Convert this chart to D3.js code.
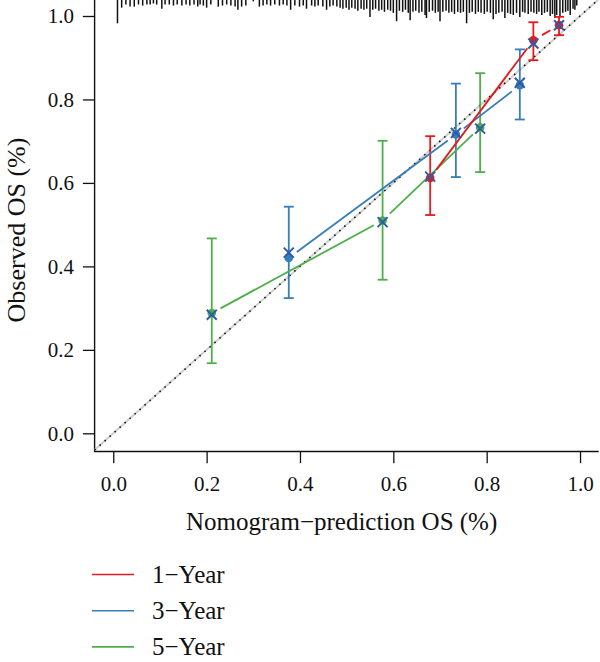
<!DOCTYPE html>
<html>
<head>
<meta charset="utf-8">
<script src="https://cdn.jsdelivr.net/npm/d3@7"></script>
<style>
  body { margin: 0; background: #fff; }
  svg text { font-family: "Liberation Serif", "DejaVu Serif", serif; fill: #111; }
</style>
</head>
<body>
<div id="calibration-wrapper"></div>
<script>
// legend labels and colours
const seriesNames = ["1\u2212Year", "3\u2212Year", "5\u2212Year"]
const seriesColors = ["#E41A1C", "#377EB8", "#4DAF4A"]
const correctedColor = "#2E5CAA"

// mean predicted / observed KM / 95% CI / bias-corrected, per time point
const predicted1 = [0.679, 0.900, 0.955]
const observed1 = [0.612, 0.942, 0.978]
const lower1 = [0.523, 0.894, 0.954]
const upper1 = [0.712, 0.985, 0.998]
const corrected1 = [0.615, 0.934, 0.978]

const predicted3 = [0.376, 0.734, 0.871]
const observed3 = [0.420, 0.716, 0.834]
const lower3 = [0.324, 0.614, 0.752]
const upper3 = [0.543, 0.838, 0.920]
const corrected3 = [0.433, 0.720, 0.840]

const predicted5 = [0.211, 0.577, 0.786]
const observed5 = [0.288, 0.510, 0.733]
const lower5 = [0.168, 0.368, 0.626]
const upper5 = [0.467, 0.701, 0.863]
const corrected5 = [0.284, 0.506, 0.730]

const tickValues = [0, 0.2, 0.4, 0.6, 0.8, 1.0]

// distribution of predicted values shown along the top
const riskValues = [
  0.009, 0.018, 0.027, 0.036, 0.045, 0.054, 0.063, 0.072, 0.079, 0.086,
  0.093, 0.104, 0.111, 0.120, 0.129, 0.137, 0.147, 0.156, 0.164, 0.173,
  0.181, 0.186, 0.193, 0.200, 0.209, 0.225, 0.234, 0.243, 0.252, 0.261,
  0.267, 0.275, 0.284, 0.300, 0.313, 0.321, 0.329, 0.337, 0.346, 0.356,
  0.364, 0.372, 0.380, 0.389, 0.399, 0.407, 0.414, 0.425, 0.432, 0.439,
  0.449, 0.457, 0.464, 0.471, 0.479,
  0.486, 0.492, 0.499, 0.505, 0.511, 0.518, 0.524, 0.531, 0.537, 0.543,
  0.550, 0.556, 0.562, 0.569, 0.575, 0.581, 0.588, 0.594, 0.600, 0.607,
  0.613, 0.620, 0.626, 0.632, 0.636, 0.642, 0.648, 0.655, 0.661, 0.668,
  0.671, 0.677, 0.684, 0.690, 0.696, 0.700, 0.706, 0.713, 0.719, 0.725,
  0.731, 0.738, 0.744, 0.750, 0.757, 0.763, 0.769, 0.776, 0.782, 0.788,
  0.795, 0.801, 0.808, 0.814, 0.820, 0.826, 0.833, 0.839, 0.845, 0.851,
  0.857, 0.864, 0.871, 0.877, 0.882, 0.889, 0.895, 0.901, 0.907, 0.912,
  0.918, 0.924, 0.930, 0.936, 0.941, 0.946, 0.950, 0.957, 0.963, 0.969,
  0.974, 0.979, 0.985, 0.989, 0.993
]
const riskCounts = [
  23, 8, 5, 7, 7, 5, 6, 5, 5, 4,
  5, 9, 5, 5, 6, 5, 6, 5, 6, 5,
  7, 5, 6, 8, 5, 7, 6, 5, 6, 7,
  10, 7, 6, 2, 7, 6, 5, 6, 5, 6,
  5, 6, 10, 6, 7, 6, 9, 6, 7, 6,
  7, 10, 7, 6, 7,
  8, 9, 8, 10, 8, 9, 11, 9, 10, 9,
  17, 10, 9, 11, 10, 12, 10, 11, 13, 21,
  11, 12, 10, 13, 20, 12, 11, 13, 12, 15,
  18, 12, 11, 13, 12, 21, 12, 11, 13, 12,
  14, 12, 13, 12, 23, 13, 12, 14, 12, 13,
  14, 12, 13, 19, 14, 13, 12, 18, 13, 14,
  15, 13, 17, 12, 13, 14, 12, 13, 14, 12,
  15, 13, 12, 16, 14, 18, 15, 17, 13, 12,
  11, 15, 9, 10, 6
]

function drawCalibration() {

  let dimensions = {
    width: 600,
    height: 662,
    plot: {
      left: 94.6,
      right: 598.7,
      top: -0.7,
      bottom: 450,
    },
  }

  const xScale = d3.scaleLinear()
      .domain([-0.04, 1.04])
      .range([dimensions.plot.left, dimensions.plot.right])

  const yScale = d3.scaleLinear()
      .domain([-0.04, 1.04])
      .range([dimensions.plot.bottom, dimensions.plot.top])

  const spikeScale = d3.scaleLinear()
      .domain([0, d3.max(riskCounts)])
      .range([0, 24])

  const wrapper = d3.select("#calibration-wrapper")
    .append("svg")
      .attr("width", dimensions.width)
      .attr("height", dimensions.height)

  // Draw axes (R style: L box, outward ticks)

  const yAxisGenerator = d3.axisLeft()
    .scale(yScale)
    .tickValues(tickValues)
    .tickFormat(d3.format(".1f"))
    .tickSize(11.7)
    .tickPadding(9)

  const yAxis = wrapper.append("g")
      .attr("transform", `translate(${dimensions.plot.left}, 0)`)
    .call(yAxisGenerator)
      .attr("font-family", null)
  yAxis.select(".domain").remove()
  yAxis.selectAll("line").attr("stroke", "#111").attr("stroke-width", 1.3)
  yAxis.selectAll("text")
      .attr("font-size", 21)
      .attr("fill", "#111")

  const xAxisGenerator = d3.axisBottom()
    .scale(xScale)
    .tickValues(tickValues)
    .tickFormat(d3.format(".1f"))
    .tickSize(11.7)
    .tickPadding(13)

  const xAxis = wrapper.append("g")
      .attr("transform", `translate(0, ${dimensions.plot.bottom + 1.5})`)
    .call(xAxisGenerator)
      .attr("font-family", null)
  xAxis.select(".domain").remove()
  xAxis.selectAll("line").attr("stroke", "#111").attr("stroke-width", 1.3)
  xAxis.selectAll("text")
      .attr("font-size", 21)
      .attr("fill", "#111")

  wrapper.append("path")
      .attr("d", `M${dimensions.plot.left},0 V${dimensions.plot.bottom + 1.5} H${dimensions.plot.right}`)
      .attr("fill", "none")
      .attr("stroke", "#111")
      .attr("stroke-width", 1.4)

  wrapper.append("text")
      .attr("x", (dimensions.plot.left + dimensions.plot.right) / 2 - 5)
      .attr("y", 530)
      .attr("text-anchor", "middle")
      .attr("font-size", 25)
      .text("Nomogram\u2212prediction OS (%)")

  wrapper.append("text")
      .attr("transform", "translate(25, 230) rotate(-90)")
      .attr("text-anchor", "middle")
      .attr("font-size", 26)
      .text("Observed OS (%)")

  // distribution spikes at the top
  wrapper.append("g")
    .selectAll("line")
    .data(riskValues)
    .join("line")
      .attr("x1", d => xScale(d))
      .attr("x2", d => xScale(d))
      .attr("y1", dimensions.plot.top)
      .attr("y2", (d, i) => dimensions.plot.top + spikeScale(riskCounts[i]))
      .attr("stroke", "#111")
      .attr("stroke-width", 1.5)

  // ideal line
  wrapper.append("line")
      .attr("x1", xScale(-0.04))
      .attr("y1", yScale(-0.04))
      .attr("x2", xScale(1.04))
      .attr("y2", yScale(1.04))
      .attr("stroke", "#cfcfcf")
      .attr("stroke-width", 2)
  wrapper.append("line")
      .attr("x1", xScale(-0.04))
      .attr("y1", yScale(-0.04))
      .attr("x2", xScale(1.04))
      .attr("y2", yScale(1.04))
      .attr("stroke", "#111")
      .attr("stroke-width", 1.6)
      .attr("stroke-dasharray", "1.5 5.2")

  const seriesData = [
    { pred: predicted1, obs: observed1, lo: lower1, hi: upper1, cor: corrected1 },
    { pred: predicted3, obs: observed3, lo: lower3, hi: upper3, cor: corrected3 },
    { pred: predicted5, obs: observed5, lo: lower5, hi: upper5, cor: corrected5 },
  ]

  const gap = 10
  const capHalf = 5

  // draw 5-year first, 1-year last (as in the figure)
  const drawOrder = [2, 1, 0]

  drawOrder.forEach(s => {
    const series = seriesData[s]
    const color = seriesColors[s]
    const g = wrapper.append("g")

    // error bars
    series.pred.forEach((p, i) => {
      const x = xScale(p)
      g.append("line")
          .attr("x1", x).attr("x2", x)
          .attr("y1", yScale(series.lo[i])).attr("y2", yScale(series.hi[i]))
          .attr("stroke", color).attr("stroke-width", 1.8)
      ;[series.lo[i], series.hi[i]].forEach(v => {
        g.append("line")
            .attr("x1", x - capHalf).attr("x2", x + capHalf)
            .attr("y1", yScale(v)).attr("y2", yScale(v))
            .attr("stroke", color).attr("stroke-width", 1.8)
      })
    })
  })

  drawOrder.forEach(s => {
    const series = seriesData[s]
    const color = seriesColors[s]
    const g = wrapper.append("g")

    // connecting line with gaps around the points (type = "b")
    for (let i = 0; i < series.pred.length - 1; i++) {
      const x0 = xScale(series.pred[i]), y0 = yScale(series.obs[i])
      const x1 = xScale(series.pred[i + 1]), y1 = yScale(series.obs[i + 1])
      const len = Math.hypot(x1 - x0, y1 - y0)
      if (len <= 2 * gap) continue
      const ux = (x1 - x0) / len, uy = (y1 - y0) / len
      g.append("line")
          .attr("x1", x0 + ux * gap).attr("y1", y0 + uy * gap)
          .attr("x2", x1 - ux * gap).attr("y2", y1 - uy * gap)
          .attr("stroke", color).attr("stroke-width", 1.8)
    }

    g.selectAll("circle")
      .data(series.pred)
      .join("circle")
        .attr("cx", d => xScale(d))
        .attr("cy", (d, i) => yScale(series.obs[i]))
        .attr("r", 4.3)
        .attr("fill", color)
  })

  // bias-corrected estimates
  const crossSize = 5
  seriesData.forEach(series => {
    series.pred.forEach((p, i) => {
      const x = xScale(p), y = yScale(series.cor[i])
      wrapper.append("path")
          .attr("d", `M${x - crossSize},${y - crossSize} L${x + crossSize},${y + crossSize} M${x - crossSize},${y + crossSize} L${x + crossSize},${y - crossSize}`)
          .attr("stroke", correctedColor)
          .attr("stroke-width", 2)
          .attr("fill", "none")
    })
  })

  // legend
  const legend = wrapper.append("g")
  seriesNames.forEach((name, i) => {
    const y = 574.5 + i * 36.2
    legend.append("line")
        .attr("x1", 92).attr("x2", 134)
        .attr("y1", y).attr("y2", y)
        .attr("stroke", seriesColors[i])
        .attr("stroke-width", 1.6)
    legend.append("text")
        .attr("x", 152)
        .attr("y", y + 8.5)
        .attr("font-size", 25)
        .text(name)
  })
}

drawCalibration()
</script>
</body>
</html>
